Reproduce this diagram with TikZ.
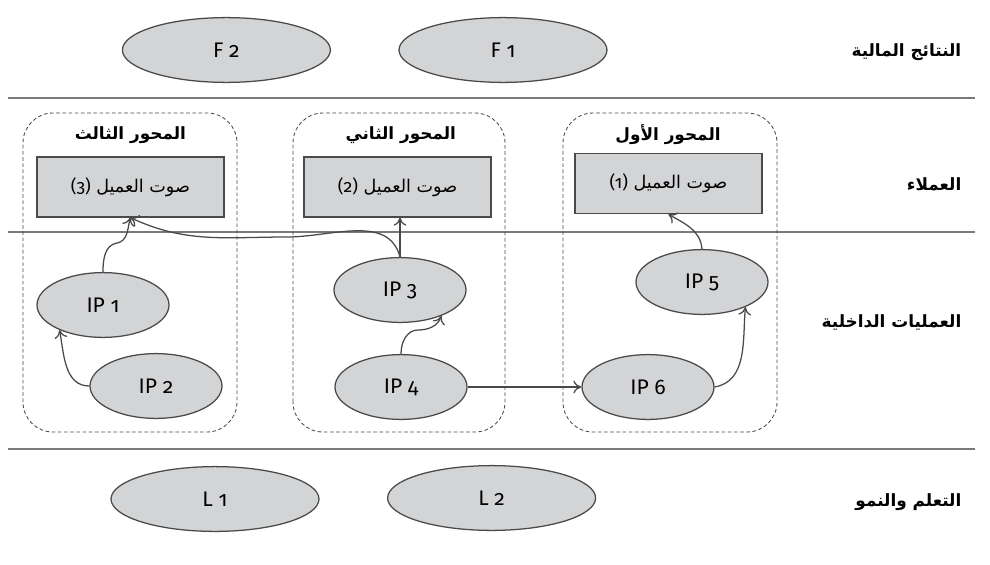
\documentclass[tikz,border=0pt]{standalone}
\usepackage{fontspec}
\setmainfont{Fira Sans}[Numbers=OldStyle]
\newfontfamily\arabicfont[Script=Arabic]{DejaVu Sans}
\TeXXeTstate=1
\usetikzlibrary{shapes.geometric,arrows.meta}
\definecolor{ovalgray}{HTML}{D3D4D6}
\definecolor{edgegray}{HTML}{4A4A4A}
\definecolor{rulegray}{HTML}{7A7A7A}
\newcommand{\artext}[1]{{\arabicfont\beginR #1\endR}}

\begin{document}
\begin{tikzpicture}
    [every node/.style={inner sep=0pt},
     oval/.style={ellipse,draw=edgegray,fill=ovalgray,line width=0.9pt,minimum width=3.3cm,minimum height=1.62cm,font=\fontsize{15}{17}\selectfont},
     wide/.style={oval,minimum width=5.2cm},
     voice/.style={draw=edgegray,fill=ovalgray,line width=0.9pt,minimum width=4.675cm,minimum height=1.5cm,font=\fontsize{12.5}{14}\selectfont},
     axis/.style={draw=edgegray,dash pattern=on 2.6pt off 1.8pt,rounded corners=0.75cm,line width=0.6pt},
     title/.style={font=\fontsize{12}{14}\selectfont\bfseries},
     side/.style={anchor=east,font=\fontsize{12}{14}\selectfont\bfseries},
     rule/.style={draw=rulegray,line width=1.3pt},
     flow/.style={-{To[length=2mm,width=3.2mm]},draw=edgegray,line width=0.9pt}]
      \useasboundingbox (0,0) rectangle (24.75,14.1);

      % perspective labels
      \node (fin)[side]  at (24.04,12.8)  {\artext{النتائج المالية}};
      \node (cus)[side]  at (24.04,9.5)   {\artext{العملاء}};
      \node (int)[side]  at (24.04,6.05)  {\artext{العمليات الداخلية}};
      \node (lrn)[side]  at (24.04,1.55)  {\artext{التعلم والنمو}};

      \draw[rule] (0.2,11.65) -- (24.375,11.65);
      \draw[rule] (0.2,8.3)   -- (24.375,8.3);
      \draw[rule] (0.2,2.875) -- (24.375,2.875);

      % axes
      \draw[axis] (0.575,3.3)  rectangle (5.925,11.275);
      \draw[axis] (7.325,3.3)  rectangle (12.625,11.275);
      \draw[axis] (14.075,3.3) rectangle (19.425,11.275);
      \node (t3)[title] at (3.26,10.725)  {\artext{المحور الثالث}};
      \node (t2)[title] at (10.02,10.725) {\artext{المحور الثاني}};
      \node (t1)[title] at (16.7,10.725)  {\artext{المحور الأول}};

      \node (v3)[voice] at (3.26,9.425)  {\artext{صوت العميل \beginL{\rmfamily(3)}\endL}};
      \node (v2)[voice] at (9.94,9.425)  {\artext{صوت العميل \beginL{\rmfamily(2)}\endL}};
      \node (v1)[voice] at (16.71,9.51)  {\artext{صوت العميل \beginL{\rmfamily(1)}\endL}};

      \node (f2)[wide] at (5.66,12.85)  {F 2};
      \node (f1)[wide] at (12.575,12.85) {F 1};

      \node (ip1)[oval] at (2.575,6.475) {IP 1};
      \node (ip2)[oval] at (3.9,4.45)    {IP 2};
      \node (ip3)[oval] at (10,6.85)     {IP 3};
      \node (ip4)[oval] at (10.025,4.425) {IP 4};
      \node (ip5)[oval] at (17.55,7.05)  {IP 5};
      \node (ip6)[oval] at (16.2,4.425)  {IP 6};

      \node (l1)[wide] at (5.375,1.625) {L 1};
      \node (l2)[wide] at (12.29,1.65)  {L 2};

      \coordinate (w1) at (2.925,8.025);
      \coordinate (w2) at (7.175,8.175);
      \coordinate (w3) at (10.45,5.85);

      \draw[flow] (ip1.north) to[out=90,in=190] (w1) to[out=10,in=-105] (v3.south);
      \draw[flow] (ip3.north) to[out=105,in=0] (w2) to[out=180,in=-25] (v3.south);
      \draw[flow] (ip3.north) -- (ip3.north |- v2.south);
      \draw[flow] (ip4.north) to[out=90,in=180] (w3) to[out=0,in=-110] (ip3.-32);
      \draw[flow] (ip2.west) to[out=180,in=-80] (ip1.-150);
      \draw[flow] (ip4.east) -- (ip6.west);
      \draw[flow] (ip6.east) to[out=10,in=-95] (ip5.-30);
      \draw[flow] (ip5.north) to[out=95,in=-30] (v1.south);
    \end{tikzpicture}
\end{document}
